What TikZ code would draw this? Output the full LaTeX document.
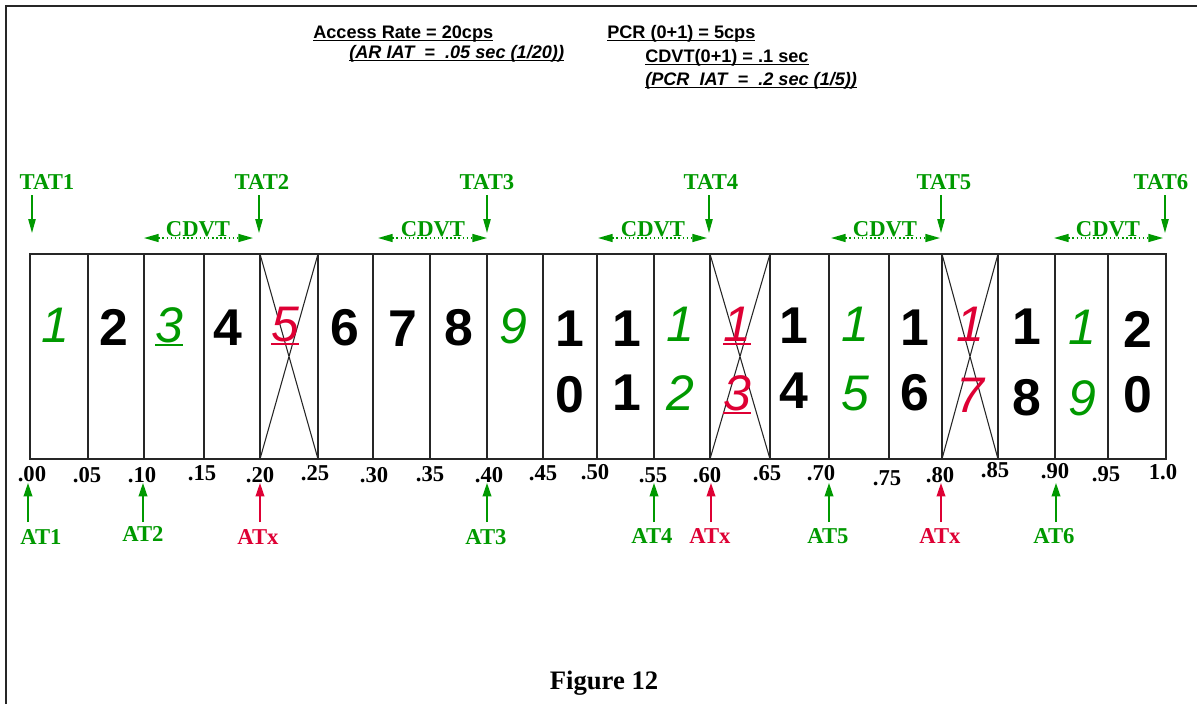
\documentclass[tikz,border=0pt]{standalone}
\usepackage{fontspec}
\setmainfont{Liberation Serif}
\newfontfamily\arialf{Liberation Sans}
\usetikzlibrary{arrows.meta}
\definecolor{gr}{RGB}{0,153,0}
\definecolor{rd}{RGB}{222,0,52}
\newcommand\myul[1]{\setbox0\hbox{#1}\rlap{\rule[-3pt]{\wd0}{1.4pt}}\box0}
\newcommand\toptxtul[1]{\setbox0\hbox{#1}\rlap{\rule[-2.6pt]{\wd0}{1.1pt}}\box0}
\begin{document}
\begin{tikzpicture}[x=0.75pt,y=-0.75pt,
  frame/.style={line width=1.5pt,draw=black!85},
  cell/.style={line width=0.8pt,draw=black!85},
  blk/.style={inner sep=0pt,anchor=base,font={\arialf\bfseries\fontsize{38.8}{40}\selectfont}},
  itd/.style={inner sep=0pt,anchor=base,font={\arialf\itshape\fontsize{37.5}{38}\selectfont}},
  git/.style={itd,text=gr},
  rit/.style={itd,text=rd},
  toptxt/.style={inner sep=0pt,anchor=base west,font={\arialf\bfseries\fontsize{13.6}{15}\selectfont}},
  lab/.style={inner sep=0pt,font={\bfseries\fontsize{17}{19}\selectfont}},
  tick/.style={lab,text=black},
  glab/.style={lab,text=gr},
  rlab/.style={lab,text=rd},
  garr/.style={draw=gr,line width=1.1pt,-{Triangle[length=10.5pt,width=5.5pt]}},
  rarr/.style={draw=rd,line width=1.1pt,-{Triangle[length=10pt,width=6.5pt]}},
  gup/.style={draw=gr,line width=1.1pt,-{Triangle[length=10pt,width=6.5pt]}},
  cdvt/.style={draw=gr,line width=1.1pt,dotted,{Triangle[length=11pt,width=6pt]}-{Triangle[length=11pt,width=6pt]}}
]
\useasboundingbox (0,0) rectangle (1197,704);
\fill[white] (0,0) rectangle (1197,704);
% frame
\draw[frame] (6,704) -- (6,6) -- (1197,6);

% header text
\node[toptxt] (ar) at (313,38) {\toptxtul{Access Rate = 20cps}};
\node[toptxt] (ariat) at (349,58) {\toptxtul{\itshape (AR IAT\ \ =\ \ .05 sec (1/20))}};
\node[toptxt] (pcr) at (607,38) {\toptxtul{PCR (0+1) = 5cps}};
\node[toptxt] (cdvtv) at (645,62) {\toptxtul{CDVT(0+1) = .1 sec}};
\node[toptxt] (pcriat) at (645,85) {\toptxtul{\itshape (PCR\ \ IAT\ \ =\ \ .2 sec (1/5))}};

% cell row
\draw[cell] (30,254) rectangle (1166,459);
\foreach \x in {88,144,204,260,318,373,430,487,543,597,654,710,770,829,889,942,998,1055,1108}
  \draw[cell] (\x,254) -- (\x,459);
\draw[cell] (260,254) -- (318,459) (318,254) -- (260,459);
\draw[cell] (710,254) -- (770,459) (770,254) -- (710,459);
\draw[cell] (942,254) -- (998,459) (998,254) -- (942,459);

% digits
\node[git] (c1) at (55,342) {1};
\node[blk] (c2) at (114,345) {2};
\node[git] (c3) at (169,342) {\myul{3}};
\node[blk] (c4) at (228,345) {4};
\node[rit] (c5) at (285,341) {\myul{5}};
\node[blk] (c6) at (345,345) {6};
\node[blk] (c7) at (403,346) {7};
\node[blk] (c8) at (459,345) {8};
\node[git] (c9) at (513,343) {9};
\node[blk] (c10a) at (570,346) {1};
\node[blk] (c10b) at (570,412) {0};
\node[blk] (c11a) at (627,346) {1};
\node[blk] (c11b) at (627,410) {1};
\node[git] (c12a) at (680,341) {1};
\node[git] (c12b) at (680,410) {2};
\node[rit] (c13a) at (737,341) {\myul{1}};
\node[rit] (c13b) at (737,410) {\myul{3}};
\node[blk] (c14a) at (794,343) {1};
\node[blk] (c14b) at (794,408) {4};
\node[git] (c15a) at (855,341) {1};
\node[git] (c15b) at (855,410) {5};
\node[blk] (c16a) at (915,345) {1};
\node[blk] (c16b) at (915,410) {6};
\node[rit] (c17a) at (970,341) {1};
\node[rit] (c17b) at (970,412) {7};
\node[blk] (c18a) at (1027,344) {1};
\node[blk] (c18b) at (1027,415) {8};
\node[git] (c19a) at (1082,344) {1};
\node[git] (c19b) at (1082,415) {9};
\node[blk] (c20a) at (1138,347) {2};
\node[blk] (c20b) at (1138,412) {0};

% tick labels
\node[tick] (t00) at (32,474) {.00};
\node[tick] (t05) at (87,475) {.05};
\node[tick] (t10) at (142,475) {.10};
\node[tick] (t15) at (202,473) {.15};
\node[tick] (t20) at (260,475) {.20};
\node[tick] (t25) at (315,473) {.25};
\node[tick] (t30) at (374,475) {.30};
\node[tick] (t35) at (430,474) {.35};
\node[tick] (t40) at (489,475) {.40};
\node[tick] (t45) at (543,473) {.45};
\node[tick] (t50) at (595,472) {.50};
\node[tick] (t55) at (653,475) {.55};
\node[tick] (t60) at (707,475) {.60};
\node[tick] (t65) at (767,473) {.65};
\node[tick] (t70) at (821,473) {.70};
\node[tick] (t75) at (887,478) {.75};
\node[tick] (t80) at (940,475) {.80};
\node[tick] (t85) at (995,470) {.85};
\node[tick] (t90) at (1055,471) {.90};
\node[tick] (t95) at (1106,474) {.95};
\node[tick] (t100) at (1163,472) {1.0};

% TAT labels and arrows
\node[glab] (tat1) at (47,182) {TAT1};
\node[glab] (tat2) at (262,182) {TAT2};
\node[glab] (tat3) at (487,182) {TAT3};
\node[glab] (tat4) at (711,182) {TAT4};
\node[glab] (tat5) at (944,182) {TAT5};
\node[glab] (tat6) at (1161,182) {TAT6};
\foreach \n/\x in {1/32,2/259,3/487,4/709,5/941,6/1165}{
  \coordinate (tat\n s) at (\x,195);
  \coordinate (tat\n e) at (\x,233);
  \draw[garr] (tat\n s) -- (tat\n e);
}

% CDVT arrows
\foreach \n/\a/\b/\m in {1/144/253/198,2/378/487/433,3/598/707/653,4/831/940/885,5/1054/1163/1108}{
  \node[glab] (cdvt\n) at (\m,229) {CDVT};
  \coordinate (cdvt\n l) at (\a,238);
  \coordinate (cdvt\n r) at (\b,238);
  \draw[cdvt] (cdvt\n l) -- (cdvt\n r);
}

% AT labels and arrows
\node[glab] (at1) at (41,537) {AT1};
\node[glab] (at2) at (143,534) {AT2};
\node[rlab] (atx1) at (258,537) {ATx};
\node[glab] (at3) at (486,537) {AT3};
\node[glab] (at4) at (652,536) {AT4};
\node[rlab] (atx2) at (710,536) {ATx};
\node[glab] (at5) at (828,536) {AT5};
\node[rlab] (atx3) at (940,536) {ATx};
\node[glab] (at6) at (1054,536) {AT6};
\foreach \n/\x/\s in {at1/28/gup,at2/143/gup,atx1/260/rarr,at3/487/gup,at4/654/gup,atx2/711/rarr,at5/829/gup,atx3/941/rarr,at6/1056/gup}{
  \coordinate (\n s) at (\x,522);
  \coordinate (\n e) at (\x,483);
  \draw[\s] (\n s) -- (\n e);
}

% caption
\node[inner sep=0pt,font={\bfseries\fontsize{20}{22}\selectfont}] (fig) at (604,683) {Figure 12};
\end{tikzpicture}
\end{document}
